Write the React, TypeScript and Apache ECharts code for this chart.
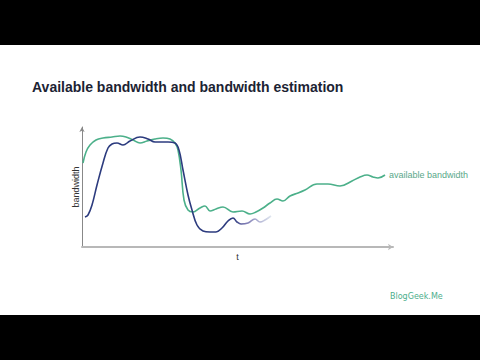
import React, { useEffect, useRef } from "react";
import * as echarts from "echarts";

// pixel-derived sample positions (t, bandwidth) in arbitrary units
const availableT = [1, 4, 8, 14, 21, 30, 38, 44, 51, 58, 65, 73, 81, 88, 93, 96, 99, 102, 106, 111, 118, 123, 128, 134, 141, 151, 160, 168, 174, 181, 188, 195, 201, 208, 216, 223, 235, 246, 258, 270, 278, 285, 291, 296, 303];
const availableBw = [84, 95, 102, 107, 109, 110, 111, 110, 107, 104, 106, 108, 109, 108, 104, 97, 77, 47, 37, 35, 39, 41, 36, 38, 40, 35, 36, 33, 35, 39, 44, 48, 46, 51, 54, 57, 63, 63, 61, 66, 70, 72, 70, 69, 72];

const estimateT = [3, 6, 10, 15, 21, 26, 30, 35, 41, 48, 58, 66, 73, 80, 86, 93, 97, 101, 106, 110, 115, 121, 128, 134, 140, 146, 151, 155, 159, 166, 173, 178, 183, 189];
const estimateBw = [30, 32, 42, 62, 84, 99, 103, 104, 102, 106, 110, 108, 105, 105, 105, 104, 97, 77, 52, 37, 22, 16, 15, 15, 19, 26, 29, 25, 23, 24, 28, 25, 27, 31];

const title = "Available bandwidth and bandwidth estimation";
const seriesLabel = "available bandwidth";
const xName = "t";
const yName = "bandwidth";
const logo = "BlogGeek.Me";

export default function App() {
  const ref = useRef<HTMLDivElement>(null);
  useEffect(() => {
    if (!ref.current) return;
    const chart = echarts.init(ref.current, null, { renderer: "svg" });
    const font = "Liberation Sans, Arial, sans-serif";
    chart.setOption({
      animation: false,
      backgroundColor: "#ffffff",
      title: {
        text: title,
        left: 27,
        top: 75,
        textStyle: { fontFamily: font, fontSize: 14, fontWeight: "bold", color: "#1c2333" },
      },
      grid: { left: 82, top: 127, right: 87, bottom: 113 },
      xAxis: {
        type: "value",
        min: 0,
        max: 311,
        name: xName,
        nameLocation: "middle",
        nameGap: 5,
        nameTextStyle: { fontFamily: font, fontSize: 9, color: "#333" },
        axisLine: { lineStyle: { color: "#b8b8b8", width: 2 }, symbol: ["none", "arrow"], symbolSize: [5, 5] },
        axisTick: { show: false },
        axisLabel: { show: false },
        splitLine: { show: false },
      },
      yAxis: {
        type: "value",
        min: 0,
        max: 120,
        name: yName,
        nameLocation: "middle",
        nameRotate: 90,
        nameGap: 2,
        nameTextStyle: { fontFamily: font, fontSize: 9, color: "#333" },
        axisLine: { show: true, lineStyle: { color: "#888", width: 1 }, symbol: ["none", "arrow"], symbolSize: [4, 5] },
        axisTick: { show: false },
        axisLabel: { show: false },
        splitLine: { show: false },
      },
      series: [
        {
          type: "line",
          data: availableT.map((t, i) => [t, availableBw[i]]),
          smooth: 0.4,
          showSymbol: false,
          lineStyle: { color: "#4cb08a", width: 1.6 },
          endLabel: {
            show: true,
            formatter: seriesLabel,
            distance: 4,
            fontFamily: font,
            fontSize: 9,
            color: "#5aa88a",
          },
          z: 2,
        },
        {
          type: "line",
          data: estimateT.map((t, i) => [t, estimateBw[i]]),
          smooth: 0.4,
          showSymbol: false,
          lineStyle: {
            width: 1.6,
            color: new echarts.graphic.LinearGradient(0, 0, 1, 0, [
              { offset: 0, color: "#2c3b7e" },
              { offset: 0.8, color: "#2c3b7e" },
              { offset: 0.86, color: "#7b78b2" },
              { offset: 1, color: "#dfe5ef" },
            ]),
          },
          z: 3,
        },
      ],
      graphic: [
        { type: "rect", shape: { x: 0, y: 0, width: 480, height: 45 }, style: { fill: "#000" } },
        { type: "rect", shape: { x: 0, y: 315, width: 480, height: 45 }, style: { fill: "#000" } },
        {
          type: "text",
          x: 390,
          y: 296,
          style: { text: logo, fontFamily: "DejaVu Sans, sans-serif", fontSize: 8, fill: "#4cae8c", verticalAlign: "middle" },
        },
      ],
    });
    return () => chart.dispose();
  }, []);
  return <div ref={ref} style={{ position: "fixed", left: 0, top: 0, width: 480, height: 360 }} />;
}
